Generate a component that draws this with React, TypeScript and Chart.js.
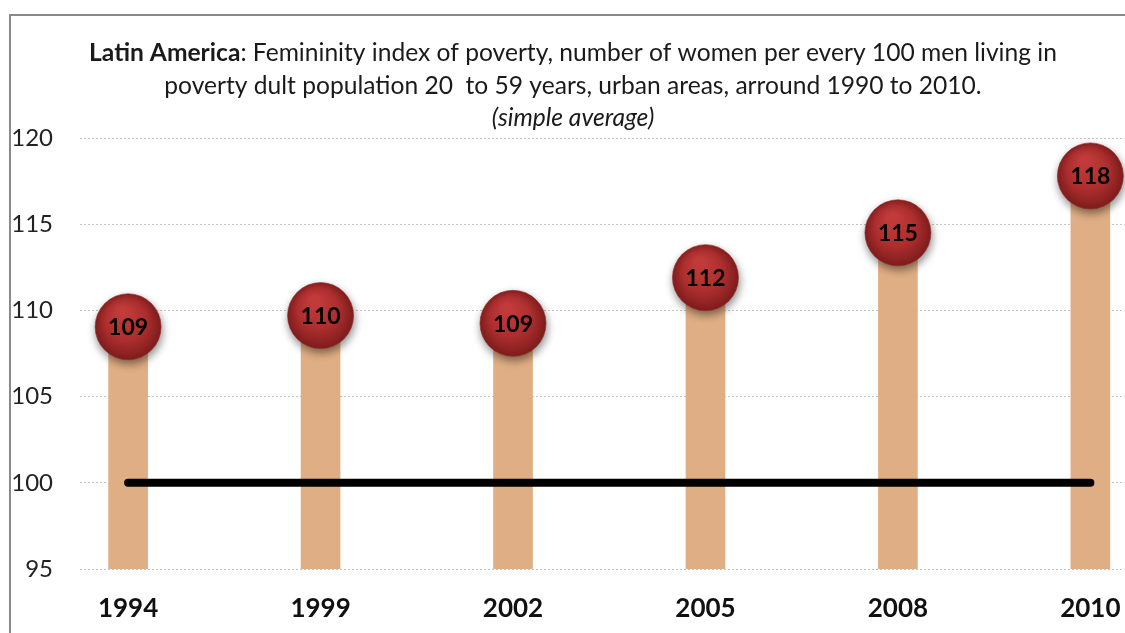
import React, { useEffect, useRef } from "react";
import { Chart, registerables } from "chart.js";

Chart.register(...registerables);

const years = ["1994", "1999", "2002", "2005", "2008", "2010"];
const indexValues = [109.05, 109.7, 109.25, 111.9, 114.5, 117.8];
const valueLabels = ["109", "110", "109", "112", "115", "118"];
const parityLevel = 100;
const yTicks = [95, 100, 105, 110, 115, 120];
const titleBold = "Latin America";
const titleRest = ": Femininity index of poverty, number of women per every 100 men living in";
const titleLine2 = "poverty dult population 20  to 59 years, urban areas, arround 1990 to 2010.";
const titleLine3 = "(simple average)";

const FONT = "Lato, 'Open Sans', sans-serif";

export default function App() {
  const ref = useRef<HTMLCanvasElement | null>(null);

  useEffect(() => {
    const canvas = ref.current;
    if (!canvas) return;

    const framePlugin = {
      id: "frame",
      beforeDraw(chart: any) {
        const ctx = chart.ctx;
        ctx.save();
        ctx.fillStyle = "#ffffff";
        ctx.fillRect(0, 0, chart.width, chart.height);
        ctx.strokeStyle = "#8a8a8a";
        ctx.lineWidth = 2;
        ctx.beginPath();
        ctx.moveTo(10, chart.height + 2);
        ctx.lineTo(10, 15);
        ctx.lineTo(chart.width + 2, 15);
        ctx.stroke();
        ctx.restore();
      },
      afterDraw(chart: any) {
        const ctx = chart.ctx;
        ctx.save();
        ctx.fillStyle = "#1a1a1a";
        ctx.textBaseline = "middle";
        const cx = 573;
        const size = 24.6;
        const boldFont = `bold ${size}px ${FONT}`;
        const normFont = `${size}px ${FONT}`;
        ctx.font = boldFont;
        const wb = ctx.measureText(titleBold).width;
        ctx.font = normFont;
        const wr = ctx.measureText(titleRest).width;
        const start = cx - (wb + wr) / 2;
        ctx.textAlign = "left";
        ctx.font = boldFont;
        ctx.fillText(titleBold, start, 53);
        ctx.font = normFont;
        ctx.fillText(titleRest, start + wb, 53);
        ctx.textAlign = "center";
        ctx.fillText(titleLine2, cx, 86);
        ctx.font = `italic ${size}px ${FONT}`;
        ctx.fillText(titleLine3, cx, 118);
        ctx.restore();
      },
    };

    const shadowPlugin = {
      id: "circleShadow",
      beforeDatasetDraw(chart: any, args: any) {
        if (args.index === 2) {
          const ctx = chart.ctx;
          ctx.save();
          ctx.shadowColor = "rgba(0,0,0,0.45)";
          ctx.shadowBlur = 8;
          ctx.shadowOffsetX = 1;
          ctx.shadowOffsetY = 4;
        }
      },
      afterDatasetDraw(chart: any, args: any) {
        if (args.index === 2) {
          chart.ctx.restore();
        }
      },
    };

    const labelPlugin = {
      id: "circleLabels",
      afterDatasetsDraw(chart: any) {
        const meta = chart.getDatasetMeta(2);
        const ctx = chart.ctx;
        ctx.save();
        ctx.fillStyle = "#000000";
        ctx.font = `bold 23px ${FONT}`;
        ctx.textAlign = "center";
        ctx.textBaseline = "middle";
        meta.data.forEach((pt: any, i: number) => {
          ctx.fillText(valueLabels[i], pt.x, pt.y + 1);
        });
        ctx.restore();
      },
    };

    const circleFill = (context: any) => {
      const chart = context.chart;
      const i = context.dataIndex;
      if (i === undefined || !chart.scales.x || !chart.scales.y) return "#a82a2a";
      const x = chart.scales.x.getPixelForValue(i);
      const y = chart.scales.y.getPixelForValue(indexValues[i]);
      if (!isFinite(x) || !isFinite(y)) return "#a82a2a";
      const g = chart.ctx.createRadialGradient(x - 6, y - 16, 4, x, y, 34);
      g.addColorStop(0, "#c23b3b");
      g.addColorStop(0.55, "#ad2e2e");
      g.addColorStop(1, "#7e1c1c");
      return g;
    };

    const chart = new Chart(canvas, {
      type: "bar",
      data: {
        datasets: [
          {
            type: "bar",
            data: indexValues.map((v, i) => ({ x: i, y: [yTicks[0], v] })) as any,
            backgroundColor: "#e0ae84",
            barThickness: 39,
            order: 3,
          },
          {
            type: "line",
            data: [
              { x: 0, y: parityLevel },
              { x: years.length - 1, y: parityLevel },
            ],
            borderColor: "#000000",
            borderWidth: 8,
            borderCapStyle: "round",
            pointRadius: 0,
            order: 2,
          },
          {
            type: "line",
            data: indexValues.map((v, i) => ({ x: i, y: v })),
            showLine: false,
            pointRadius: 33,
            pointHoverRadius: 33,
            pointBackgroundColor: circleFill as any,
            pointBorderColor: "rgba(150,40,40,0.6)",
            pointBorderWidth: 1,
            clip: false as any,
            order: 1,
          },
        ] as any,
      },
      options: {
        animation: false,
        responsive: false,
        events: [],
        layout: { autoPadding: false, padding: { left: 0, right: 0, top: 138, bottom: 0 } },
        plugins: {
          legend: { display: false },
          tooltip: { enabled: false },
          title: { display: false },
        },
        scales: {
          x: {
            type: "linear",
            offset: false,
            min: -0.25,
            max: 5.18,
            afterBuildTicks(scale: any) {
              scale.ticks = years.map((_, i) => ({ value: i }));
            },
            afterFit(scale: any) {
              scale.height = 64;
              scale.paddingLeft = 0;
              scale.paddingRight = 0;
            },
            grid: { display: false, drawTicks: false, offset: false },
            border: { display: false },
            ticks: {
              padding: 24,
              color: "#111111",
              font: { family: FONT, size: 26, weight: "bold" },
              callback: (v: any) => years[Math.round(Number(v))] ?? "",
              autoSkip: false,
              maxRotation: 0,
            },
          },
          y: {
            type: "linear",
            min: 95,
            max: 120,
            afterBuildTicks(scale: any) {
              scale.ticks = yTicks.map((v) => ({ value: v }));
            },
            afterFit(scale: any) {
              scale.width = 80;
              scale.paddingTop = 0;
              scale.paddingBottom = 0;
            },
            grid: { color: "#c4c4c4", lineWidth: 1, drawTicks: false },
            border: { display: false, dash: [2, 2] },
            ticks: {
              padding: 27,
              color: "#222222",
              font: { family: FONT, size: 24 },
            },
          },
        },
      } as any,
      plugins: [framePlugin, shadowPlugin, labelPlugin],
    });

    return () => chart.destroy();
  }, []);

  return (
    <div style={{ position: "fixed", left: 0, top: 0, width: 1125, height: 633, background: "#fff" }}>
      <canvas ref={ref} width={1125} height={633} style={{ display: "block" }} />
    </div>
  );
}
